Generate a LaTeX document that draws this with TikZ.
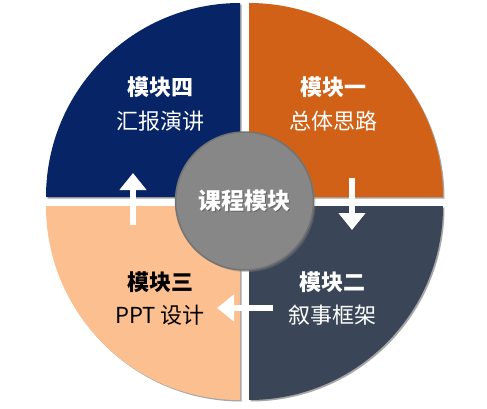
\documentclass[tikz,border=0pt]{standalone}
\usepackage{fontspec}
\newfontfamily\cjk{Noto Sans CJK SC}
\usetikzlibrary{arrows.meta,shadows}
\definecolor{navyq}{HTML}{062466}
\definecolor{orangeq}{HTML}{D06116}
\definecolor{slateq}{HTML}{3A4658}
\definecolor{peachq}{HTML}{FCBF8F}
\definecolor{centerg}{HTML}{878787}
\tikzset{
  quad/.style={draw=none, drop shadow={shadow xshift=1.5pt, shadow yshift=-1.5pt, opacity=0.35, fill=black}},
  title/.style={font=\cjk\bfseries\fontsize{22}{24}\selectfont, inner sep=0pt},
  sub/.style={font=\cjk\fontsize{22}{24}\selectfont, inner sep=0pt},
  flow/.style={draw=white, line width=6pt, -{Triangle[width=26pt,length=17pt]}},
}
\begin{document}
\begin{tikzpicture}[x=1pt,y=1pt]
\useasboundingbox (0,0) rectangle (487,408);
% quadrants
\fill[navyq, quad] (240,211) -- (46,211) arc[start angle=180, end angle=90, radius=194pt] -- cycle;
\fill[orangeq, quad] (249,211) -- (249,405) arc[start angle=90, end angle=0, radius=194pt] -- cycle;
\fill[peachq, quad] (240,202) -- (240,8) arc[start angle=270, end angle=180, radius=194pt] -- cycle;
\fill[slateq, quad] (249,202) -- (443,202) arc[start angle=0, end angle=-90, radius=194pt] -- cycle;
% center circle
\node[circle, minimum size=138pt, inner sep=0pt, fill=centerg, draw=black!55, line width=1.5pt,
      drop shadow={shadow xshift=2pt, shadow yshift=-2pt, opacity=0.4}] (c) at (244.5,207) {};
\node[title, text=black!60, font=\cjk\bfseries\fontsize{23}{25}\selectfont] at (245.5,206) {课程模块};
\node[title, text=white, font=\cjk\bfseries\fontsize{23}{25}\selectfont] (ct) at (244.5,207) {课程模块};
% texts
\node[title, text=white] (t4) at (160,321) {模块四};
\node[sub, text=white] (s4) at (160,287) {汇报演讲};
\node[title, text=white] (t1) at (333,321) {模块一};
\node[sub, text=white] (s1) at (333,287) {总体思路};
\node[title, text=black] (t3) at (160,126) {模块三};
\node[sub, text=black] (s3) at (160,93) {PPT 设计};
\node[title, text=white] (t2) at (332,126) {模块二};
\node[sub, text=white] (s2) at (332,93) {叙事框架};
% arrows
\coordinate (a1s) at (352,230);
\coordinate (a1e) at (352,178);
\coordinate (a2s) at (273,100);
\coordinate (a2e) at (217,100);
\coordinate (a3s) at (133,183);
\coordinate (a3e) at (133,235);
\draw[flow] (a1s) -- (a1e);
\draw[flow] (a2s) -- (a2e);
\draw[flow] (a3s) -- (a3e);
\end{tikzpicture}
\end{document}
